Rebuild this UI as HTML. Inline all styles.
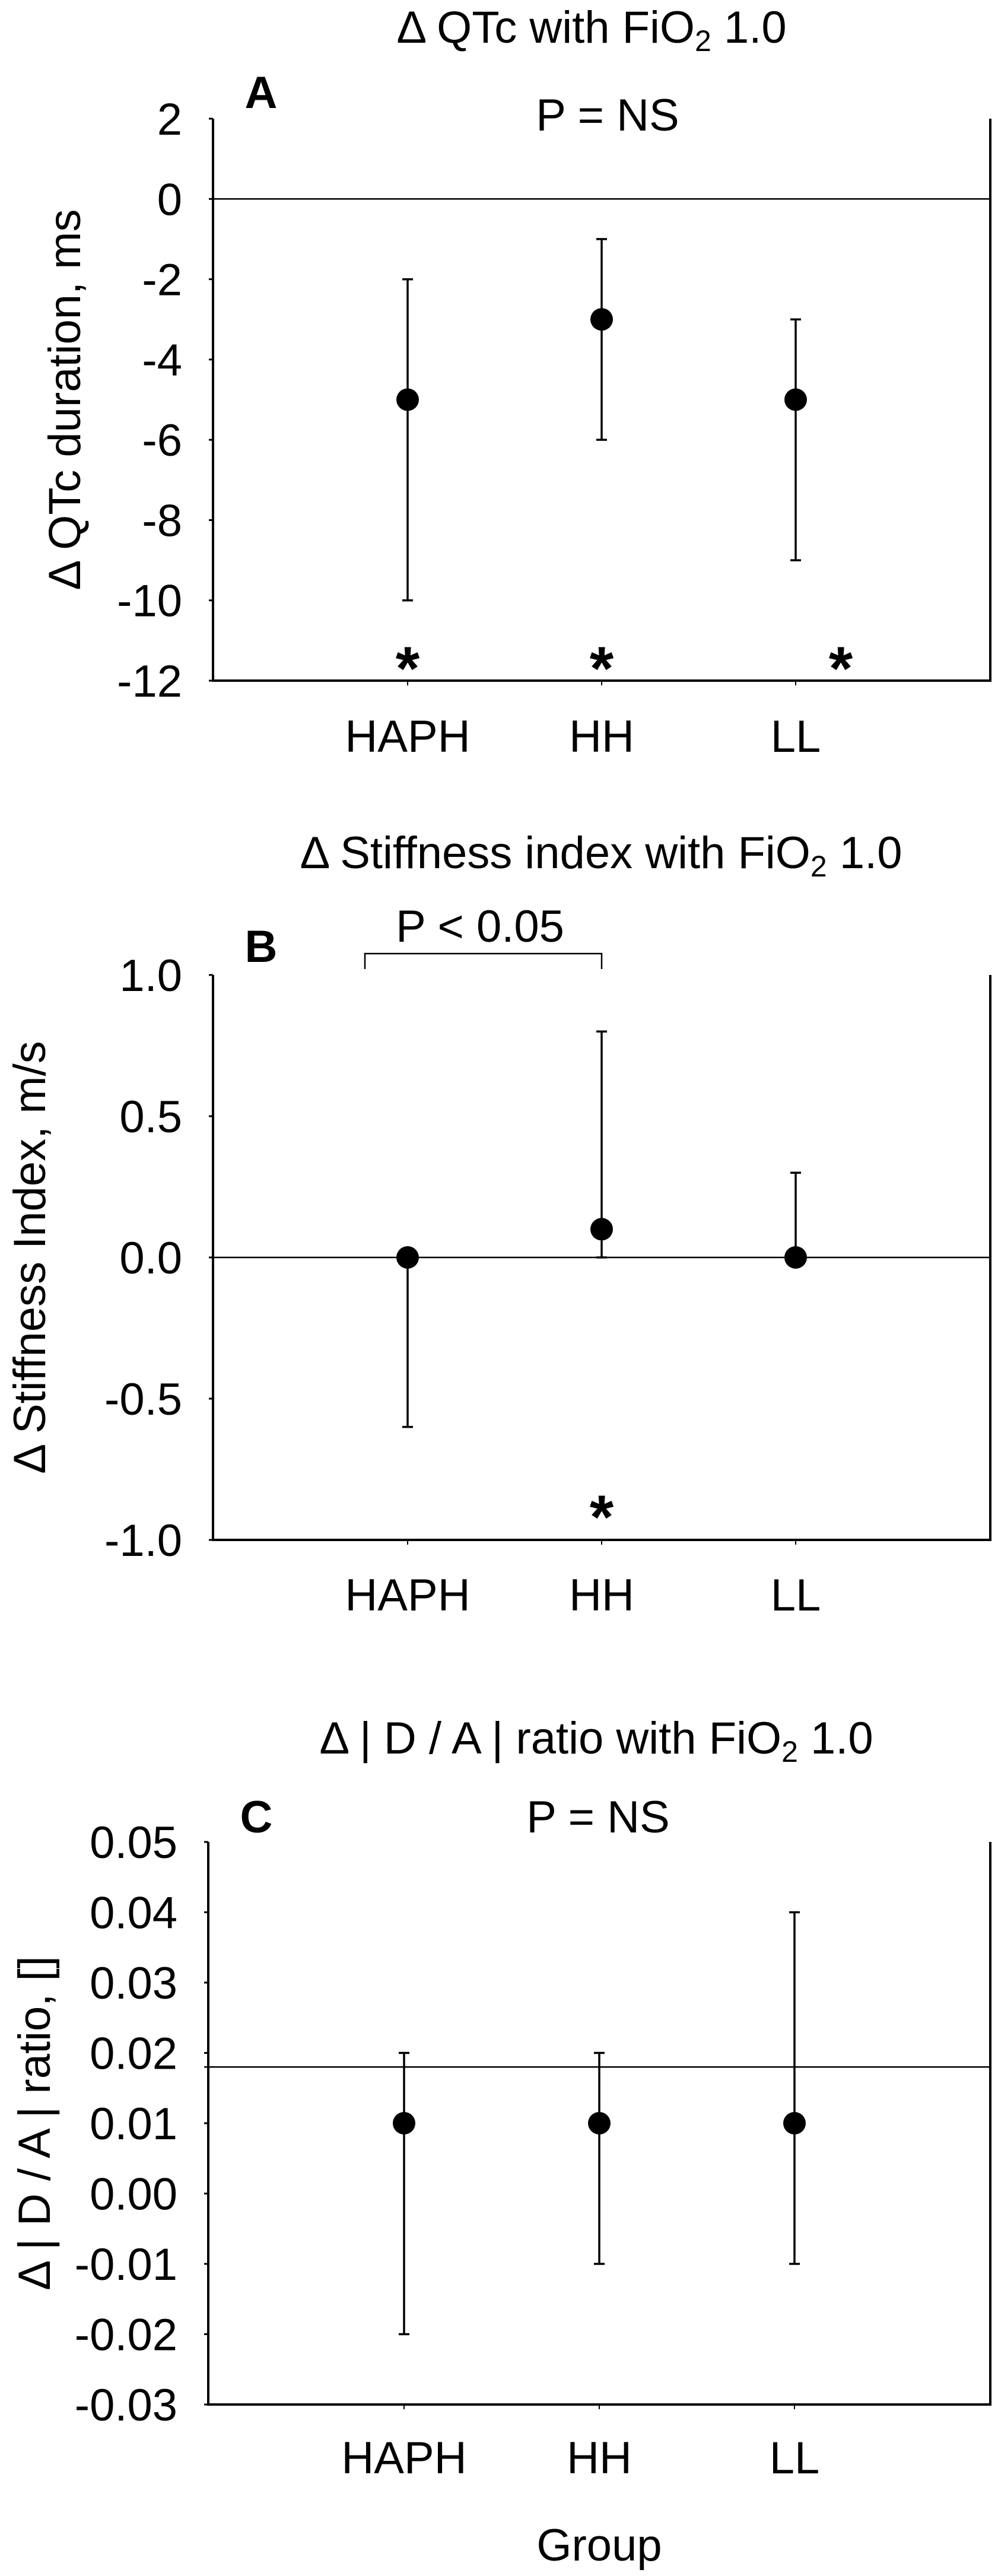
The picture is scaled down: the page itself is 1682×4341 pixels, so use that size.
<!DOCTYPE html>
<html><head><meta charset="utf-8"><style>
html,body{margin:0;padding:0;background:#fff;}
svg{display:block;font-family:"Liberation Sans",Arial,sans-serif;}
</style></head><body>
<svg id="fig" width="1682" height="4341" viewBox="0 0 1682 4341" xmlns="http://www.w3.org/2000/svg">
<rect width="1682" height="4341" fill="#fff"/>
<g id="layer"></g>
</svg>
<script>
// Shared categories
const categories = ["HAPH", "HH", "LL"];

// Panel A: Δ QTc
const aMeans = [-5, -3, -5];
const aLow = [-10, -6, -9];
const aHigh = [-2, -1, -3];
const aTicks = [2, 0, -2, -4, -6, -8, -10, -12];
const aTickLabels = ["2", "0", "-2", "-4", "-6", "-8", "-10", "-12"];
const aStars = [0, 1, 2];

// Panel B: Δ Stiffness index
const bMeans = [0, 0.1, 0];
const bLow = [-0.6, 0, 0];
const bHigh = [0, 0.8, 0.3];
const bTicks = [1.0, 0.5, 0.0, -0.5, -1.0];
const bTickLabels = ["1.0", "0.5", "0.0", "-0.5", "-1.0"];
const bStars = [1];

// Panel C: Δ |D/A| ratio
const cMeans = [0.01, 0.01, 0.01];
const cLow = [-0.02, -0.01, -0.01];
const cHigh = [0.02, 0.02, 0.04];
const cTicks = [0.05, 0.04, 0.03, 0.02, 0.01, 0.00, -0.01, -0.02, -0.03];
const cTickLabels = ["0.05", "0.04", "0.03", "0.02", "0.01", "0.00", "-0.01", "-0.02", "-0.03"];
const cRefLine = 0.018;

const NS = "http://www.w3.org/2000/svg";
const layer = document.getElementById("layer");
function mk(tag, attrs, parent) {
  const e = document.createElementNS(NS, tag);
  for (const k in attrs) e.setAttribute(k, attrs[k]);
  (parent || layer).appendChild(e);
  return e;
}
function txt(s, x, y, size, anchor, parent, weight) {
  const t = mk("text", {x: x, y: y, "font-size": size, "text-anchor": anchor || "middle", fill: "#000"}, parent);
  if (weight) t.setAttribute("font-weight", weight);
  t.textContent = s;
  return t;
}

function panel(cfg) {
  const g = mk("g", {});
  
  
  const yScale = v => cfg.top + (cfg.maxV - v) / (cfg.maxV - cfg.minV) * (cfg.bottom - cfg.top);
  const xScale = i => cfg.x0 + i * cfg.dx;

  const title = mk("text", {x: cfg.titleX, y: cfg.titleY, "font-size": 76, "text-anchor": "middle", fill: "#000"}, g);
  
  
  title.appendChild(document.createTextNode(cfg.title));
  const sub = document.createElementNS(NS, "tspan");
  sub.setAttribute("font-size", 50); sub.setAttribute("dy", 14); sub.textContent = "2";
  title.appendChild(sub);
  const rest = document.createElementNS(NS, "tspan");
  rest.setAttribute("dy", -14); rest.textContent = " 1.0";
  title.appendChild(rest);

  const L = txt(cfg.letter, cfg.left + 81, cfg.letterY, 76, "middle", g, "bold");
  
  

  const ax = mk("path", {d: `M${cfg.left},${cfg.top} V${cfg.bottom} H${cfg.right} V${cfg.top}`, fill: "none", stroke: "#000", "stroke-width": 4}, g);
  
  

  cfg.ticks.forEach((v, i) => {
    const y = yScale(v);
    mk("line", {x1: cfg.left - 7, x2: cfg.left, y1: y, y2: y, stroke: "#000", "stroke-width": 3}, g);
    const t = txt(cfg.tickLabels[i], cfg.left - 52, y + 27, 76, "end", g);
    
    
  });

  const yl = mk("text", {x: 0, y: 0, "font-size": 76, "text-anchor": "middle", fill: "#000",
    transform: `translate(${cfg.ylabX},${(cfg.top + cfg.bottom) / 2}) rotate(-90)`}, g);
  yl.textContent = cfg.ylabel;
  
  

  const ry = yScale(cfg.ref);
  const rl = mk("line", {x1: cfg.left - 7, x2: cfg.right, y1: ry, y2: ry, stroke: "#000", "stroke-width": 2.5}, g);
  
  

  categories.forEach((c, i) => {
    const x = xScale(i);
    mk("line", {x1: x, x2: x, y1: cfg.bottom, y2: cfg.bottom + 8, stroke: "#000", "stroke-width": 2}, g);
    const xl = txt(c, x, cfg.xlabY, 76, "middle", g);
    
    

    const yl1 = yScale(cfg.low[i]), yh = yScale(cfg.high[i]);
    const eb = mk("path", {d: `M${x},${yl1} V${yh} M${x - 9},${yl1} H${x + 9} M${x - 9},${yh} H${x + 9}`, stroke: "#000", "stroke-width": 3.5, fill: "none"}, g);
    
    
    const dot = mk("circle", {cx: x, cy: yScale(cfg.means[i]), r: 19, fill: "#000"}, g);
    
    
  });

  (cfg.stars || []).forEach(i => {
    const sx = cfg.starX ? cfg.starX[i] : xScale(i);
    const s = txt("*", sx, cfg.starY, 104, "middle", g, "bold");
    
    
  });
  return {g, xScale, yScale};
}

const pA = panel({name: "panel-a-qtc", title: "\u0394 QTc with FiO", titleX: 997, titleY: 72, letter: "A", letterY: 182,
  left: 359, right: 1669, top: 200, bottom: 1147, maxV: 2, minV: -12, x0: 687, dx: 327,
  ticks: aTicks, tickLabels: aTickLabels, ylabel: "\u0394 QTc duration, ms", ylabX: 135,
  ref: 0, means: aMeans, low: aLow, high: aHigh, xlabY: 1267, stars: aStars, starY: 1162,
  starX: [687, 1014, 1417]});
const pa = txt("P = NS", 1024, 220, 76, "middle", pA.g);



const pB = panel({name: "panel-b-stiffness", title: "\u0394 Stiffness index with FiO", titleX: 1013, titleY: 1463, letter: "B", letterY: 1621,
  left: 359, right: 1669, top: 1643, bottom: 2595, maxV: 1.0, minV: -1.0, x0: 687, dx: 327,
  ticks: bTicks, tickLabels: bTickLabels, ylabel: "\u0394 Stiffness Index, m/s", ylabX: 76,
  ref: 0, means: bMeans, low: bLow, high: bHigh, xlabY: 2714, stars: bStars, starY: 2592});
const br = mk("path", {d: "M615,1633 V1607 H1014 V1633", fill: "none", stroke: "#000", "stroke-width": 2.5}, pB.g);


const pb = txt("P < 0.05", 809, 1587, 76, "middle", pB.g);



const pC = panel({name: "panel-c-da-ratio", title: "\u0394 | D / A | ratio with FiO", titleX: 1005, titleY: 2955, letter: "C", letterY: 3088,
  left: 351, right: 1669, top: 3104, bottom: 4052, maxV: 0.05, minV: -0.03, x0: 681, dx: 329,
  ticks: cTicks, tickLabels: cTickLabels, ylabel: "\u0394 | D / A | ratio, []", ylabX: 84,
  ref: cRefLine, means: cMeans, low: cLow, high: cHigh, xlabY: 4168, stars: []});
const pc = txt("P = NS", 1008, 3088, 76, "middle", pC.g);


const gx = txt("Group", 1010, 4315, 76, "middle", pC.g);


</script>
</body></html>
